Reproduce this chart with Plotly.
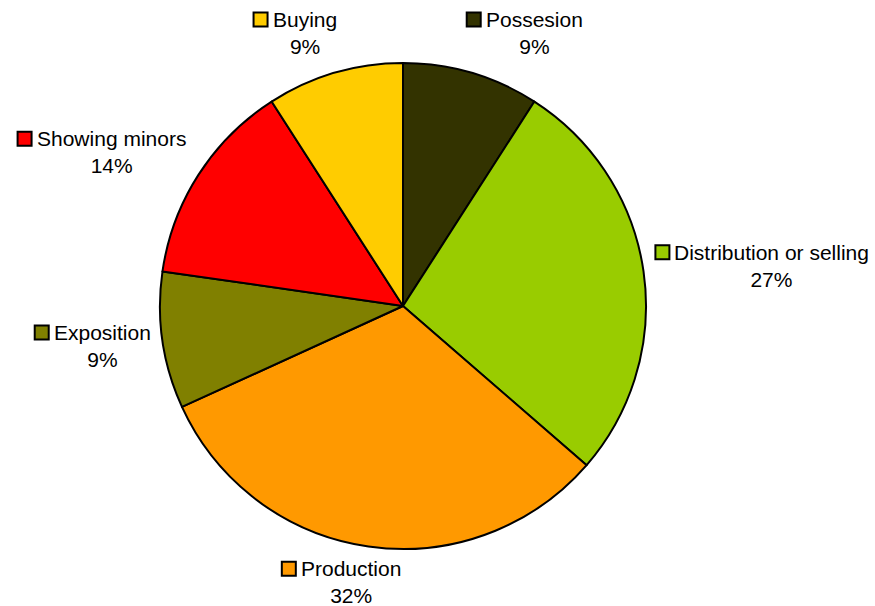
import numpy as np
import plotly.graph_objects as go

categories = ["Possesion", "Distribution or selling", "Production",
              "Exposition", "Showing minors", "Buying"]
values = [2, 6, 7, 2, 3, 2]
colors = ["#333300", "#99CC00", "#FF9900", "#808000", "#FF0000", "#FFCC00"]

W, H = 875, 606
CX, CY, R = 403, 306, 243
FS = 21
SQ, GAP = 14, 5
FONT = "Liberation Sans, Arial, sans-serif"

# Arial advance widths (per 1000 em) for label-box sizing
AW = {" ": 278, "%": 889, "A": 667, "B": 667, "C": 722, "D": 722, "E": 667,
      "P": 667, "S": 667, "a": 556, "b": 556, "c": 500, "d": 556, "e": 556,
      "g": 556, "h": 556, "i": 222, "l": 222, "m": 833, "n": 556, "o": 556,
      "p": 556, "r": 333, "s": 500, "t": 278, "u": 556, "v": 500, "w": 722,
      "x": 500, "y": 500}


def text_w(s):
    return sum(AW.get(c, 556) for c in s) / 1000 * FS


fig = go.Figure(go.Pie(
    labels=categories, values=values, sort=False, direction="clockwise",
    rotation=0, textinfo="none", hoverinfo="label+percent",
    marker=dict(colors=colors, line=dict(color="black", width=2)),
    domain=dict(x=[(CX - R) / W, (CX + R) / W],
                y=[1 - (CY + R) / H, 1 - (CY - R) / H]),
    showlegend=False,
))

total = sum(values)
cum = 0
for name, v, col in zip(categories, values, colors):
    pct = v / total * 100
    mid = (cum + v / 2) / total * 2 * np.pi
    cum += v
    ux, uy = np.sin(mid), -np.cos(mid)
    if abs(ux) > 0.9:
        gap_r = 12
    elif uy > 0.9:
        gap_r = 10
    else:
        gap_r = 15
    px, py = CX + (R + gap_r) * ux, CY + (R + gap_r) * uy
    tw = text_w(name)
    w = SQ + GAP + tw
    h = 2.5 * FS
    bx = px + np.clip(3 * ux, -1, 1) * w / 2
    by = py + uy * h / 2
    left = bx - w / 2
    tx = left + SQ + GAP + tw / 2
    fig.add_annotation(
        x=tx / W, y=1 - by / H, xref="paper", yref="paper",
        text=f"{name}<br>{pct:.0f}%", showarrow=False,
        xanchor="center", yanchor="middle", align="center",
        font=dict(family=FONT, size=FS, color="black"))
    sqy = by - 0.65 * FS
    fig.add_shape(
        type="rect", xref="paper", yref="paper",
        x0=left / W, x1=(left + SQ) / W,
        y0=1 - (sqy + SQ / 2) / H, y1=1 - (sqy - SQ / 2) / H,
        fillcolor=col, line=dict(color="black", width=2))

fig.update_layout(
    width=W, height=H, margin=dict(l=0, r=0, t=0, b=0),
    paper_bgcolor="white", plot_bgcolor="white",
    font=dict(family=FONT, size=FS, color="black"),
)

fig.write_html("out.html",
               config={"displayModeBar": False},
               post_script="document.body.style.margin='0';"
                           "document.body.style.overflow='hidden';")
